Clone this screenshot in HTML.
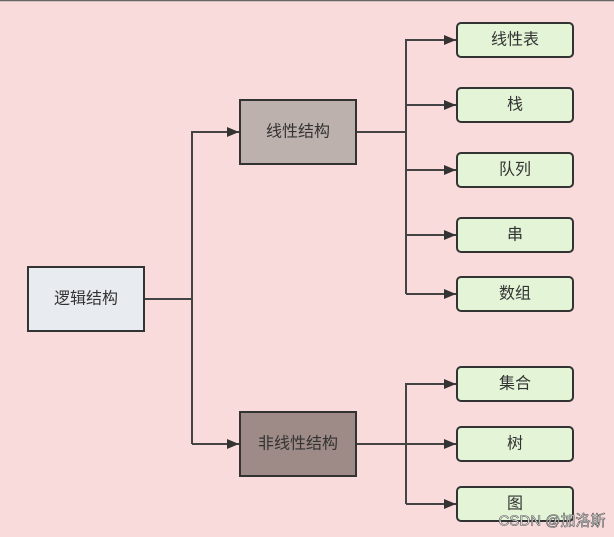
<!DOCTYPE html>
<html><head><meta charset="utf-8"><style>
body{margin:0;width:614px;height:537px;overflow:hidden;background:#fadbdb;}
svg{display:block}
text{font-family:"Liberation Sans","Noto Sans CJK SC",sans-serif;font-size:16px;fill:#333;text-anchor:middle;dominant-baseline:central}
</style></head><body>
<svg width="614" height="537" viewBox="0 0 614 537">
<defs><marker id="a" markerWidth="12" markerHeight="10" refX="12" refY="5" orient="auto" markerUnits="userSpaceOnUse"><path d="M0,0 L12,5 L0,10 z" fill="#333"/></marker></defs>
<rect x="0" y="0" width="614" height="537" fill="#fadbdb"/>
<line x1="0" y1="0.5" x2="614" y2="0.5" stroke="#666" stroke-width="1.5"/>
<g stroke="#444" stroke-width="2" fill="none">
<path d="M144,299 H192"/>
<path d="M192,444 V132 H239" marker-end="url(#a)"/>
<path d="M192,444 H239" marker-end="url(#a)"/>
<path d="M356,132 H406"/>
<path d="M406,294 V40 H456" marker-end="url(#a)"/>
<path d="M406,105 H456" marker-end="url(#a)"/>
<path d="M406,170 H456" marker-end="url(#a)"/>
<path d="M406,235 H456" marker-end="url(#a)"/>
<path d="M406,294 H456" marker-end="url(#a)"/>
<path d="M356,444 H456" marker-end="url(#a)"/>
<path d="M406,504 V384 H456" marker-end="url(#a)"/>
<path d="M406,504 H456" marker-end="url(#a)"/>
</g>
<g stroke="#333" stroke-width="2">
<rect x="28" y="267" width="116" height="64" fill="#e8ecf0"/>
<rect x="240" y="100" width="116" height="64" fill="#bdb1ae"/>
<rect x="240" y="412" width="116" height="64" fill="#9e8a86"/>
<g fill="#e3f4d7">
<rect x="457" y="23" width="116" height="34" rx="4"/>
<rect x="457" y="88" width="116" height="34" rx="4"/>
<rect x="457" y="153" width="116" height="34" rx="4"/>
<rect x="457" y="218" width="116" height="34" rx="4"/>
<rect x="457" y="277" width="116" height="34" rx="4"/>
<rect x="457" y="367" width="116" height="34" rx="4"/>
<rect x="457" y="427" width="116" height="34" rx="4"/>
<rect x="457" y="487" width="116" height="34" rx="4"/>
</g></g>
<text x="86" y="299">逻辑结构</text>
<text x="298" y="132">线性结构</text>
<text x="298" y="444">非线性结构</text>
<text x="515" y="40">线性表</text>
<text x="515" y="105">栈</text>
<text x="515" y="170">队列</text>
<text x="515" y="235">串</text>
<text x="515" y="294">数组</text>
<text x="515" y="384">集合</text>
<text x="515" y="444">树</text>
<text x="515" y="504">图</text>
<text x="552" y="521" style="font-size:15px;fill:#fff;stroke:#555;stroke-width:0.6">CSDN @加洛斯</text>
</svg>
</body></html>
